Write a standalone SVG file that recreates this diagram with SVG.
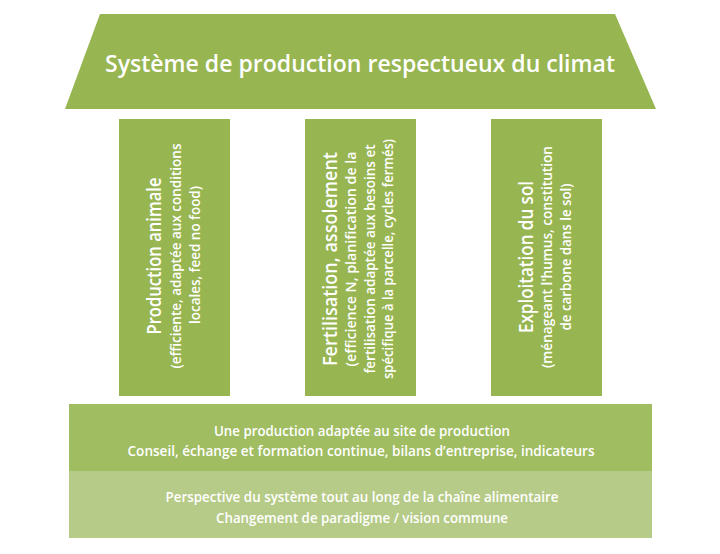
<svg xmlns="http://www.w3.org/2000/svg" width="720" height="554" viewBox="0 0 720 554">
<style>
.g{fill:#97b551}
.t{font-family:"Open Sans","Noto Sans","DejaVu Sans",sans-serif;fill:#ffffff;font-weight:600;text-anchor:middle}
.h{font-size:24px}
.c{font-size:19px}
.s{font-size:14px}
.b{font-size:14px}
</style>
<rect width="720" height="554" fill="#ffffff"/>
<g id="roof">
<polygon class="g" points="100,14 615,14 656,109 65,109"/>
<text class="t h" x="360" y="72" textLength="510" lengthAdjust="spacingAndGlyphs">Système de production respectueux du climat</text>
</g>
<g id="col1">
<rect class="g" x="119" y="119" width="111" height="277"/>
<g transform="translate(174.5,256) rotate(-90)">
<text class="t c" x="0" y="-13.5" textLength="157" lengthAdjust="spacingAndGlyphs">Production animale</text>
<text class="t s" x="0" y="6.5" textLength="225" lengthAdjust="spacingAndGlyphs">(efficiente, adaptée aux conditions</text>
<text class="t s" x="1" y="25.5" textLength="138" lengthAdjust="spacingAndGlyphs">locales, feed no food)</text>
</g>
</g>
<g id="col2">
<rect class="g" x="305" y="119" width="111" height="277"/>
<g transform="translate(360.5,259) rotate(-90)">
<text class="t c" x="0" y="-23.5" textLength="214" lengthAdjust="spacingAndGlyphs">Fertilisation, assolement</text>
<text class="t s" x="0" y="-4.5" textLength="215" lengthAdjust="spacingAndGlyphs">(efficience N, planification de la</text>
<text class="t s" x="0" y="14.5" textLength="229" lengthAdjust="spacingAndGlyphs">fertilisation adaptée aux besoins et</text>
<text class="t s" x="0" y="32.5" textLength="240" lengthAdjust="spacingAndGlyphs">spécifique à la parcelle, cycles fermés)</text>
</g>
</g>
<g id="col3">
<rect class="g" x="491" y="119" width="111" height="277"/>
<g transform="translate(546.5,257) rotate(-90)">
<text class="t c" x="0" y="-13.5" textLength="152" lengthAdjust="spacingAndGlyphs">Exploitation du sol</text>
<text class="t s" x="0" y="5.5" textLength="222" lengthAdjust="spacingAndGlyphs">(ménageant l'humus, constitution</text>
<text class="t s" x="0" y="24.5" textLength="147" lengthAdjust="spacingAndGlyphs">de carbone dans le sol)</text>
</g>
</g>
<g id="band1">
<rect x="69" y="404" width="583" height="67" fill="#a0bd62"/>
<text class="t b" x="362" y="436" textLength="296" lengthAdjust="spacingAndGlyphs">Une production adaptée au site de production</text>
<text class="t b" x="361" y="456" textLength="467" lengthAdjust="spacingAndGlyphs">Conseil, échange et formation continue, bilans d’entreprise, indicateurs</text>
</g>
<g id="band2">
<rect x="69" y="471" width="583" height="67" fill="#b6cb87"/>
<text class="t b" x="362" y="502" textLength="393" lengthAdjust="spacingAndGlyphs">Perspective du système tout au long de la chaîne alimentaire</text>
<text class="t b" x="362" y="523" textLength="292" lengthAdjust="spacingAndGlyphs">Changement de paradigme / vision commune</text>
</g>
</svg>
